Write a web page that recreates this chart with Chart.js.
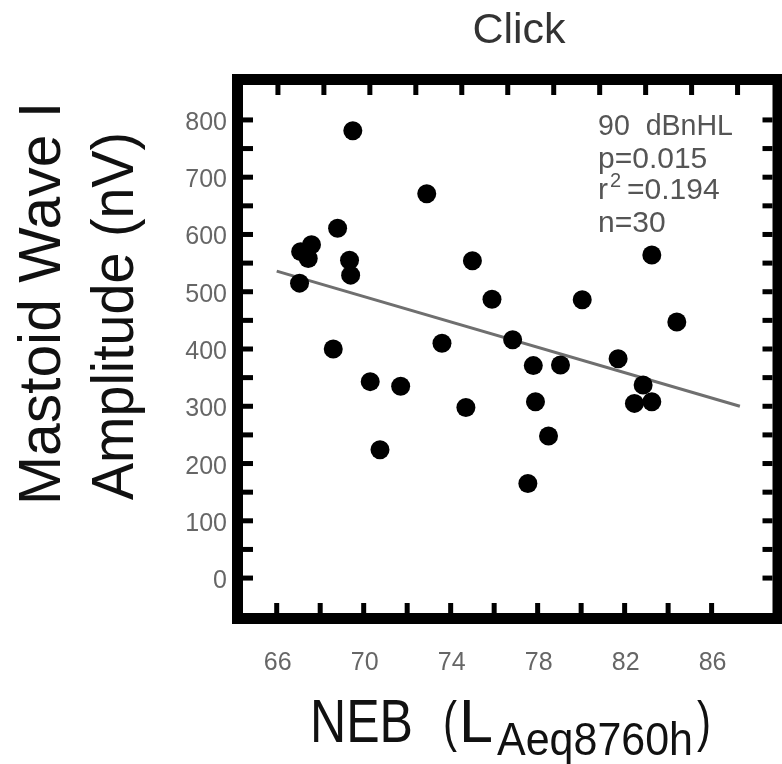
<!DOCTYPE html>
<html>
<head>
<meta charset="utf-8">
<script src="https://cdn.jsdelivr.net/npm/chart.js@4.4.0/dist/chart.umd.min.js"></script>
<style>
  html, body { margin: 0; padding: 0; background: #fff; }
  #wrap { width: 782px; height: 764px; }
</style>
</head>
<body>
<div id="wrap"><canvas id="chart" width="782" height="764"></canvas></div>
<script>
// NEB (LAeq8760h) vs mastoid wave I amplitude (nV), click 90 dBnHL
const nebLevel = [69.5, 72.9, 68.8, 67.6, 67.1, 67.45, 69.35, 69.4, 67.05, 75.0,
                  75.9, 68.6, 73.6, 70.3, 71.7, 74.7, 70.75, 76.85, 77.8, 79.05,
                  81.7, 77.9, 78.5, 77.55, 82.85, 82.45, 83.25, 83.25, 80.05, 84.4];
const waveAmplitude = [781, 671, 611, 582, 570, 558, 555, 529, 515, 554,
                       487, 400, 410, 343, 335, 298, 224, 416, 371, 372,
                       383, 308, 248, 165, 337, 305, 308, 564, 486, 447];

// regression line end points
const fitX = [66, 87.3];
const fitY = [536, 300];

const xTicks = [66, 68, 70, 72, 74, 76, 78, 80, 82, 84, 86];
const xTickLabels = [66, 70, 74, 78, 82, 86];
const yTicks = [0, 50, 100, 150, 200, 250, 300, 350, 400, 450, 500, 550, 600, 650, 700, 750, 800];
const yTickLabels = [0, 100, 200, 300, 400, 500, 600, 700, 800];

const chartTitle = 'Click';
const yTitleLines = ['Mastoid Wave I', 'Amplitude (nV)'];
const statsLines = ['90  dBnHL', 'p=0.015', '=0.194', 'n=30'];

const points = nebLevel.map((x, i) => ({ x: x, y: waveAmplitude[i] }));
const fitLine = fitX.map((x, i) => ({ x: x, y: fitY[i] }));

const FONT = '"Liberation Sans", Arial, sans-serif';

function fitText(ctx, text, x, y, width) {
    const w = ctx.measureText(text).width;
    ctx.save();
    ctx.translate(x, y);
    ctx.scale(width / w, 1);
    ctx.fillText(text, 0, 0);
    ctx.restore();
}

const framePlugin = {
    id: 'frame',
    afterDatasetsDraw(chart) {
        const ctx = chart.ctx;
        const a = chart.chartArea;
        const xs = chart.scales.x;
        const xt = chart.scales.x2;
        const ys = chart.scales.y;
        ctx.save();
        ctx.strokeStyle = '#000';
        ctx.lineWidth = 11;
        ctx.strokeRect(a.left - 5.5, a.top - 5.5, a.right - a.left + 11, a.bottom - a.top + 11);
        ctx.fillStyle = '#000';
        xTicks.forEach((v) => {
            const pb = xs.getPixelForValue(v);
            ctx.fillRect(pb - 2.5, a.bottom - 10, 5, 10);
            const pt = xt.getPixelForValue(v);
            ctx.fillRect(pt - 2.5, a.top, 5, 10);
        });
        yTicks.forEach((v) => {
            const p = ys.getPixelForValue(v);
            ctx.fillRect(a.left, p - 2.5, 10, 5);
            ctx.fillRect(a.right - 10, p - 2.5, 10, 5);
        });
        ctx.restore();
    },
    afterDraw(chart) {
        const ctx = chart.ctx;
        const xs = chart.scales.x;
        const ys = chart.scales.y;
        ctx.save();

        // tick labels
        ctx.fillStyle = '#666';
        ctx.font = '25px ' + FONT;
        ctx.textAlign = 'center';
        ctx.textBaseline = 'alphabetic';
        xTickLabels.forEach((v) => {
            ctx.fillText(String(v), xs.getPixelForValue(v) + 1, 670);
        });
        ctx.textAlign = 'right';
        yTickLabels.forEach((v) => {
            ctx.fillText(String(v), 227, ys.getPixelForValue(v) + 10);
        });

        // title
        ctx.fillStyle = '#333';
        ctx.font = '43px ' + FONT;
        ctx.textAlign = 'center';
        ctx.fillText(chartTitle, 519, 43);

        // y axis title
        ctx.fillStyle = '#111';
        ctx.font = '60px ' + FONT;
        ctx.textAlign = 'left';
        ctx.save();
        ctx.translate(60, 505);
        ctx.rotate(-Math.PI / 2);
        fitText(ctx, yTitleLines[0], 0, 0, 403);
        ctx.restore();
        ctx.save();
        ctx.translate(133, 500);
        ctx.rotate(-Math.PI / 2);
        fitText(ctx, yTitleLines[1], 0, 0, 368);
        ctx.restore();

        // x axis title: NEB (L Aeq8760h)
        ctx.font = '61px ' + FONT;
        fitText(ctx, 'NEB', 310, 742, 103);
        ctx.font = '55px ' + FONT;
        fitText(ctx, '(', 443, 740, 14);
        ctx.font = '61px ' + FONT;
        fitText(ctx, 'L', 459, 742, 34);
        ctx.font = '46px ' + FONT;
        fitText(ctx, 'Aeq8760h', 497, 755, 196);
        ctx.font = '55px ' + FONT;
        fitText(ctx, ')', 697, 740, 14);

        // stats block
        ctx.fillStyle = '#555';
        ctx.font = '30px ' + FONT;
        fitText(ctx, statsLines[0], 598, 135, 135);
        ctx.fillText(statsLines[1], 598, 168);
        ctx.fillText('r', 598, 199);
        ctx.font = '20px ' + FONT;
        ctx.fillText('2', 610, 187);
        ctx.font = '30px ' + FONT;
        ctx.fillText(statsLines[2], 627, 199);
        ctx.fillText(statsLines[3], 598, 232);

        ctx.restore();
    }
};

new Chart(document.getElementById('chart').getContext('2d'), {
    type: 'scatter',
    data: {
        datasets: [
            {
                label: 'Subjects',
                data: points,
                pointRadius: 9.5,
                pointBorderWidth: 0,
                backgroundColor: '#000',
                borderColor: '#000',
                order: 1,
            },
            {
                label: 'Fit',
                data: fitLine,
                showLine: true,
                pointRadius: 0,
                borderColor: '#6f6f6f',
                borderWidth: 3,
                order: 2,
            },
        ],
    },
    options: {
        responsive: false,
        devicePixelRatio: 1,
        animation: false,
        layout: { padding: { left: 243, right: 9, top: 85, bottom: 151 } },
        plugins: { legend: { display: false }, tooltip: { enabled: false } },
        scales: {
            x: { type: 'linear', min: 64.45, max: 88.8, display: false },
            x2: { type: 'linear', axis: 'x', position: 'top', min: 64.48, max: 87.52, display: false },
            y: { type: 'linear', min: -61, max: 861, display: false },
        },
    },
    plugins: [framePlugin],
});
</script>
</body>
</html>
